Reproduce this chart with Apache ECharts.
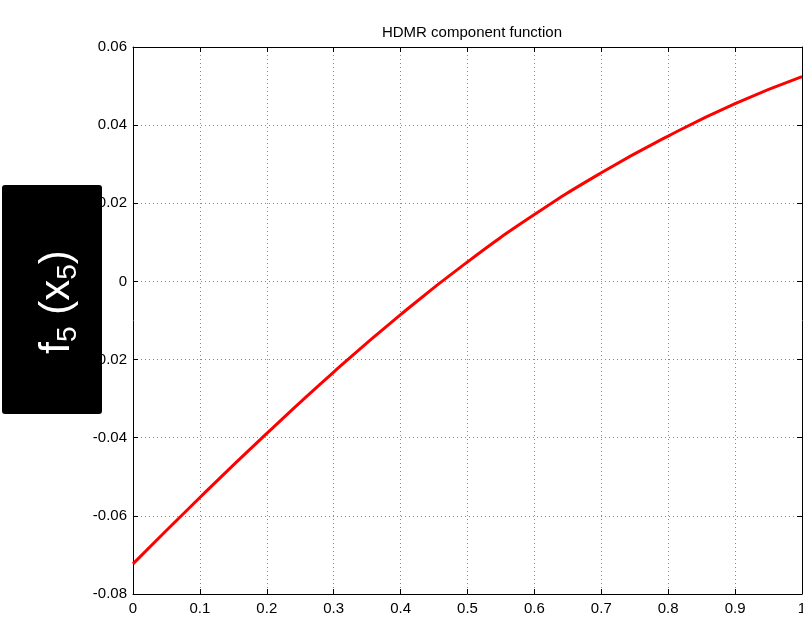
<!DOCTYPE html>
<html>
<head>
<meta charset="utf-8">
<script src="https://cdn.jsdelivr.net/npm/echarts@6/dist/echarts.min.js"></script>
<style>
  html, body { margin: 0; padding: 0; background: #fff; }
  #main { width: 803px; height: 617px; }
</style>
</head>
<body>
<div id="main"></div>
<script>
// x positions and component values
const xValues = [0, 0.1, 0.2, 0.3, 0.4, 0.5, 0.6, 0.7, 0.8, 0.9, 1]
const fValues = [-0.0723, -0.0553, -0.0389, -0.0232, -0.0085, 0.0050, 0.0171, 0.0278, 0.0372, 0.0455, 0.0524]
const xTicks = [0, 0.1, 0.2, 0.3, 0.4, 0.5, 0.6, 0.7, 0.8, 0.9, 1]
const yTicks = [-0.08, -0.06, -0.04, -0.02, 0, 0.02, 0.04, 0.06]

const chart = echarts.init(document.getElementById('main'))
const font = 'Liberation Sans, Arial, sans-serif'
const tickStyle = { show: true, inside: true, length: 5, lineStyle: { color: '#000' } }
const gridLine = { show: true, lineStyle: { color: '#8a8a8a', type: [1, 3], width: 1 } }

const option = {
  animation: false,
  title: {
    text: 'HDMR component function',
    left: 467,
    top: 20,
    textAlign: 'center',
    textStyle: { fontFamily: font, fontSize: 15, fontWeight: 'normal', color: '#000' }
  },
  grid: { left: 133, right: 1, top: 47, bottom: 23, containLabel: false, outerBoundsMode: 'none' },
  xAxis: [
    {
      type: 'value', min: xTicks[0], max: xTicks[xTicks.length - 1], interval: 0.1,
      axisLine: { show: true, onZero: false, lineStyle: { color: '#000' } },
      axisTick: tickStyle,
      splitLine: gridLine,
      axisLabel: { color: '#000', fontFamily: font, fontSize: 15, margin: 7,
        hideOverlap: false,
        formatter: v => String(+v.toFixed(1)) }
    },
    {
      type: 'value', position: 'top', min: 0, max: 1, interval: 0.1,
      axisLine: { show: true, onZero: false, lineStyle: { color: '#000' } },
      axisTick: tickStyle, axisLabel: { show: false }, splitLine: { show: false }
    }
  ],
  yAxis: [
    {
      type: 'value', min: yTicks[0], max: yTicks[yTicks.length - 1], interval: 0.02,
      axisLine: { show: true, onZero: false, lineStyle: { color: '#000' } },
      axisTick: tickStyle,
      splitLine: gridLine,
      axisLabel: { color: '#000', fontFamily: font, fontSize: 15, margin: 6,
        formatter: v => String(+v.toFixed(2)) }
    },
    {
      type: 'value', position: 'right', min: -0.08, max: 0.06, interval: 0.02,
      axisLine: { show: true, onZero: false, lineStyle: { color: '#000' } },
      axisTick: tickStyle, axisLabel: { show: false }, splitLine: { show: false }
    }
  ],
  series: [
    {
      type: 'line',
      data: xValues.map((x, i) => [x, fValues[i]]),
      smooth: true,
      showSymbol: false,
      lineStyle: { color: '#ff0000', width: 3 }
    }
  ],
  graphic: [
    {
      type: 'rect', z: 100,
      shape: { x: 2, y: 185, width: 100, height: 229, r: 3 },
      style: { fill: '#000' }
    },
    {
      type: 'text', z: 101,
      x: 57, y: 302, rotation: Math.PI / 2,
      style: {
        text: '{m|f}{s|5}{m| (x}{s|5}{m|)}',
        fill: '#fff',
        align: 'center',
        verticalAlign: 'middle',
        rich: {
          m: { fontFamily: font, fontSize: 42, lineHeight: 50, verticalAlign: 'middle', fill: '#fff', color: '#fff' },
          s: { fontFamily: font, fontSize: 28, lineHeight: 28, verticalAlign: 'bottom', fill: '#fff', color: '#fff' }
        }
      }
    }
  ]
}

chart.setOption(option)
</script>
</body>
</html>
